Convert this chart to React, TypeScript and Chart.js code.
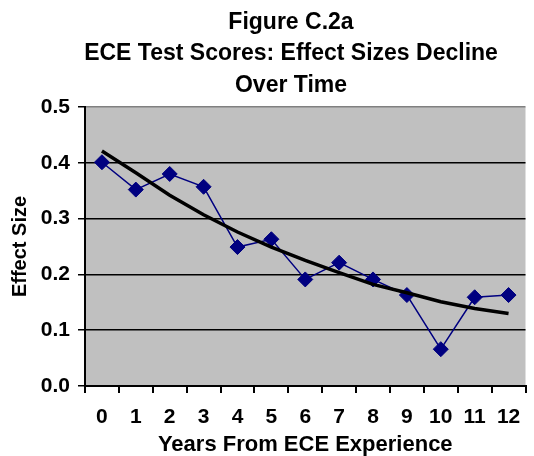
import React, { useEffect, useRef } from "react";
import { Chart, registerables } from "chart.js";

Chart.register(...registerables);

const titleLines = ["Figure C.2a", "ECE Test Scores: Effect Sizes Decline", "Over Time"];
const years = ["0", "1", "2", "3", "4", "5", "6", "7", "8", "9", "10", "11", "12"];
const effectSizes = [0.401, 0.352, 0.38, 0.357, 0.249, 0.263, 0.191, 0.221, 0.191, 0.163, 0.066, 0.159, 0.163];
const trendValues = [0.421, 0.382, 0.342, 0.307, 0.276, 0.249, 0.225, 0.203, 0.182, 0.167, 0.151, 0.139, 0.13];
const yAxisTitle = "Effect Size";
const xAxisTitle = "Years From ECE Experience";

const FONT = "'Liberation Sans', Arial, sans-serif";

const bgPlugin = {
  id: "plotBg",
  beforeDraw(chart: any) {
    const { ctx, chartArea } = chart;
    ctx.save();
    ctx.fillStyle = "#c0c0c0";
    ctx.fillRect(chartArea.left, chartArea.top, chartArea.right - chartArea.left, chartArea.bottom - chartArea.top);
    ctx.restore();
  },
};

const titlePlugin = {
  id: "multiTitle",
  afterDraw(chart: any) {
    const { ctx } = chart;
    ctx.save();
    ctx.fillStyle = "#000";
    ctx.font = `bold 23px ${FONT}`;
    ctx.textAlign = "center";
    ctx.textBaseline = "alphabetic";
    const baselines = [29, 60, 92];
    titleLines.forEach((t, i) => ctx.fillText(t, 291, baselines[i]));
    ctx.restore();
  },
};

export default function App() {
  const ref = useRef<HTMLCanvasElement>(null);
  useEffect(() => {
    if (!ref.current) return;
    const chart = new Chart(ref.current, {
      type: "line",
      data: {
        labels: years,
        datasets: [
          {
            label: "Trend",
            data: trendValues,
            borderColor: "#000000",
            borderWidth: 3.5,
            pointRadius: 0,
            tension: 0,
            fill: false,
            order: 0,
          },
          {
            label: "Effect Size",
            data: effectSizes,
            borderColor: "#000080",
            backgroundColor: "#000080",
            borderWidth: 1.5,
            pointStyle: "rectRot",
            pointRadius: 7.5,
            pointBackgroundColor: "#000080",
            pointBorderColor: "#000080",
            pointBorderWidth: 1,
            tension: 0,
            fill: false,
            order: 1,
          },
        ],
      },
      options: {
        responsive: false,
        animation: false,
        devicePixelRatio: 1,
        layout: { padding: { top: 107, left: 0, right: 0, bottom: 0 } },
        plugins: {
          legend: { display: false },
          title: { display: false },
          tooltip: { enabled: false },
        },
        scales: {
          x: {
            type: "category",
            offset: true,
            afterFit: (s: any) => {
              s.height = 70;
            },
            grid: {
              offset: true,
              drawOnChartArea: false,
              drawTicks: true,
              tickLength: 7,
              color: "#000",
              lineWidth: 2,
            },
            border: { display: true, color: "#000", width: 2 },
            ticks: {
              color: "#000",
              font: { family: FONT, size: 21, weight: "bold" },
              padding: 12,
              maxRotation: 0,
              autoSkip: false,
            },
            title: {
              display: true,
              text: xAxisTitle,
              color: "#000",
              font: { family: FONT, size: 22, weight: "bold", lineHeight: 1 },
              padding: { top: 0, bottom: 0 },
            },
          },
          y: {
            min: 0,
            max: 0.5,
            afterFit: (s: any) => {
              s.width = 85;
            },
            grid: {
              color: (c: any) => (c.tick && Math.abs(c.tick.value - 0.5) < 1e-6 ? "#808080" : "#000"),
              tickColor: "#000",
              lineWidth: 1.5,
              tickLength: 7,
            },
            border: { display: true, color: "#000", width: 2 },
            ticks: {
              stepSize: 0.1,
              color: "#000",
              font: { family: FONT, size: 21, weight: "bold" },
              padding: 8,
              callback: (v: any) => Number(v).toFixed(1),
            },
            title: {
              display: true,
              text: yAxisTitle,
              color: "#000",
              font: { family: FONT, size: 20, weight: "bold", lineHeight: 1 },
              padding: { top: 10, bottom: 0 },
            },
          },
        },
      },
      plugins: [bgPlugin, titlePlugin],
    });
    return () => chart.destroy();
  }, []);
  return (
    <div style={{ position: "fixed", left: 0, top: 0, width: 534, height: 456, background: "#fff" }}>
      <canvas ref={ref} width={534} height={456} style={{ display: "block" }} />
    </div>
  );
}
